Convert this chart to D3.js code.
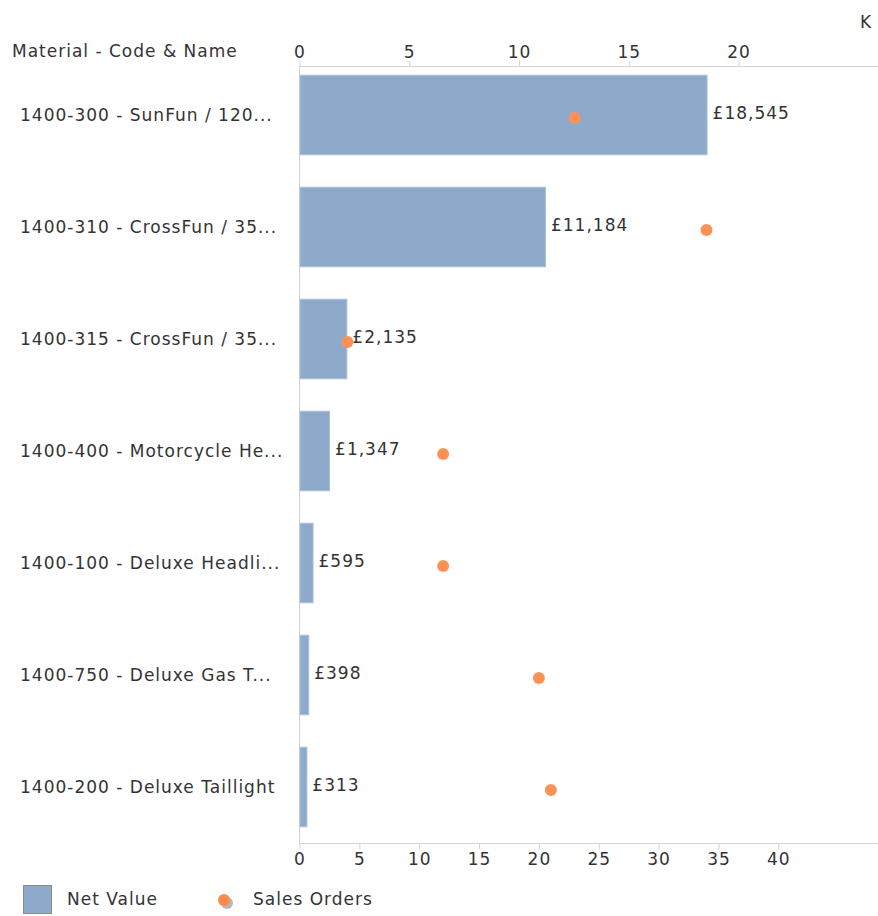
<!DOCTYPE html>
<html>
<head>
<meta charset="utf-8">
<script src="https://cdn.jsdelivr.net/npm/d3@7"></script>
<style>
  body { margin: 0; background: #fff; }
  text { font-family: "DejaVu Sans", sans-serif; fill: #333; letter-spacing: 1px; }
</style>
</head>
<body>
<svg id="chart"></svg>
<script>
const materials = [
  '1400-300 - SunFun / 120...',
  '1400-310 - CrossFun / 35...',
  '1400-315 - CrossFun / 35...',
  '1400-400 - Motorcycle He...',
  '1400-100 - Deluxe Headli...',
  '1400-750 - Deluxe Gas T...',
  '1400-200 - Deluxe Taillight'
];
const netValue = [18545, 11184, 2135, 1347, 595, 398, 313];
const salesOrders = [23, 34, 4, 12, 12, 20, 21];
const topTicks = [0, 5, 10, 15, 20];
const bottomTicks = [0, 5, 10, 15, 20, 25, 30, 35, 40];

const width = 878;
const height = 916;
const plotLeft = 299.5;
const plotRight = 878;
const plotTop = 66.5;
const plotBottom = 843.5;
const fontSize = 17;

const svg = d3.select('#chart')
  .attr('width', width)
  .attr('height', height);

const y = d3.scaleBand()
  .domain(materials)
  .range([59, 843])
  .paddingInner(0.29)
  .paddingOuter(0.145);

const xTop = d3.scaleLinear()
  .domain([0, 20000])
  .range([plotLeft, plotLeft + 20 * 21.95]);

const xBottom = d3.scaleLinear()
  .domain([0, 40])
  .range([plotLeft, plotLeft + 40 * 11.97]);

const fmt = d3.format(',');

// top axis
const topAxis = svg.append('g')
  .attr('transform', `translate(0,${plotTop})`)
  .call(d3.axisTop(xTop).tickValues(topTicks.map(t => t * 1000)).tickFormat(d => d / 1000).tickSize(6).tickSizeOuter(0));

// bottom axis
const bottomAxis = svg.append('g')
  .attr('transform', `translate(0,${plotBottom})`)
  .call(d3.axisBottom(xBottom).tickValues(bottomTicks).tickSize(6).tickSizeOuter(0));

[topAxis, bottomAxis].forEach(g => {
  g.select('.domain').remove();
  g.selectAll('line').attr('stroke', '#d4d4d4');
  g.selectAll('text').attr('font-size', fontSize).attr('fill', '#333')
    .style('font-family', '"DejaVu Sans", sans-serif');
});

svg.append('line')
  .attr('x1', plotLeft).attr('x2', plotRight).attr('y1', plotTop).attr('y2', plotTop)
  .attr('stroke', '#d4d4d4');
svg.append('line')
  .attr('x1', plotLeft).attr('x2', plotRight).attr('y1', plotBottom).attr('y2', plotBottom)
  .attr('stroke', '#d4d4d4');
svg.append('line')
  .attr('x1', plotLeft).attr('x2', plotLeft).attr('y1', plotTop).attr('y2', plotBottom)
  .attr('stroke', '#d4d4d4');

svg.append('text')
  .attr('x', 12).attr('y', 57)
  .attr('font-size', fontSize)
  .text('Material - Code & Name');

svg.append('text')
  .attr('x', 860).attr('y', 28)
  .attr('font-size', fontSize)
  .text('K');

// category labels
svg.append('g')
  .selectAll('text')
  .data(materials)
  .join('text')
  .attr('x', 20)
  .attr('y', d => y(d) + y.bandwidth() / 2)
  .attr('dy', '0.35em')
  .attr('font-size', fontSize)
  .text(d => d);

// bars
svg.append('g')
  .selectAll('rect')
  .data(materials)
  .join('rect')
  .attr('x', xTop(0) + 0.5)
  .attr('y', d => y(d))
  .attr('width', (d, i) => xTop(netValue[i]) - xTop(0))
  .attr('height', y.bandwidth())
  .attr('fill', '#8eaacb')
  .attr('stroke', '#a9bfdb')
  .attr('stroke-width', 1);

// value labels
svg.append('g')
  .selectAll('text')
  .data(materials)
  .join('text')
  .attr('x', (d, i) => xTop(netValue[i]) + 6)
  .attr('y', d => y(d) + y.bandwidth() / 2 - 2)
  .attr('dy', '0.35em')
  .attr('font-size', fontSize)
  .text((d, i) => '£' + fmt(netValue[i]));

// sales order dots
svg.append('g')
  .selectAll('circle')
  .data(materials)
  .join('circle')
  .attr('cx', (d, i) => xBottom(salesOrders[i]))
  .attr('cy', d => y(d) + y.bandwidth() / 2 + 3)
  .attr('r', 6)
  .attr('fill', '#ff9157');

// legend
const legend = svg.append('g');
legend.append('rect')
  .attr('x', 23.5).attr('y', 885.5)
  .attr('width', 28).attr('height', 28)
  .attr('fill', '#8eaacb')
  .attr('stroke', '#8a8a8a');
legend.append('text')
  .attr('x', 67).attr('y', 899).attr('dy', '0.35em')
  .attr('font-size', fontSize)
  .text('Net Value');
legend.append('circle')
  .attr('cx', 227).attr('cy', 903).attr('r', 6)
  .attr('fill', '#999').attr('opacity', 0.7);
legend.append('circle')
  .attr('cx', 224).attr('cy', 900).attr('r', 6)
  .attr('fill', '#ff8a4c');
legend.append('text')
  .attr('x', 253).attr('y', 899).attr('dy', '0.35em')
  .attr('font-size', fontSize)
  .text('Sales Orders');
</script>
</body>
</html>
